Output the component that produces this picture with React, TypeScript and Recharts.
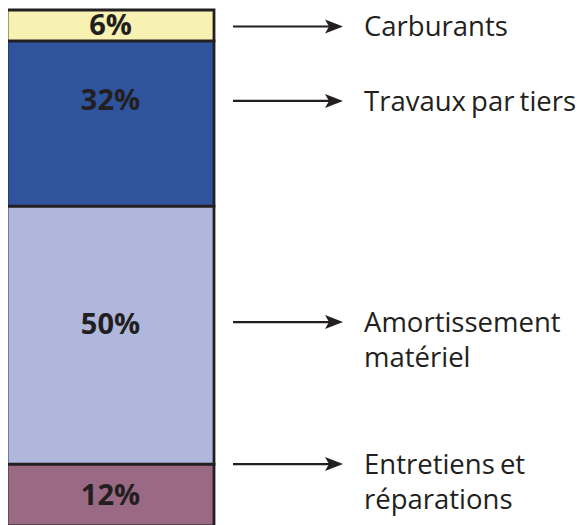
import React from "react";
import { BarChart, Bar, XAxis, YAxis, LabelList } from "recharts";

// ---- data ----
const categories = ["Coûts"];
const seriesKeys = ["entretiens", "amortissement", "travaux", "carburants"];
const seriesNames = [
  ["Entretiens et", "réparations"],
  ["Amortissement", "matériel"],
  ["Travaux par tiers"],
  ["Carburants"],
];
const entretiensValues = [12];
const amortissementValues = [50];
const travauxValues = [32];
const carburantsValues = [6];

const data = categories.map((c, i) => ({
  name: c,
  entretiens: entretiensValues[i],
  amortissement: amortissementValues[i],
  travaux: travauxValues[i],
  carburants: carburantsValues[i],
}));

// ---- styles ----
const INK = "#231f20";
const FONT = "'Open Sans', 'Noto Sans', sans-serif";
const fills = ["#9a6a85", "#b0b7dc", "#30539e", "#f8f2b2"];
// per-series placement (relative to segment top): percent baseline, arrow y
const placement = [
  { pct: "center", arrow: 0 },
  { pct: 128, arrow: 116 },
  { pct: 69, arrow: 60 },
  { pct: "center", arrow: "center" },
] as const;

function makeLabel(si: number) {
  return (props: any) => {
    const x = Number(props.x);
    const y = Number(props.y);
    const w = Number(props.width);
    const h = Number(props.height);
    const v = props.value;
    const p = placement[si];
    const pctBase = p.pct === "center" ? y + h / 2 + 10 : y + (p.pct as number);
    const ay = p.arrow === "center" ? y + h / 2 + 1 : y + (p.arrow as number);
    const ax0 = x + w + 19;
    const ax1 = ax0 + 110;
    const lines = seriesNames[si];
    const tx = ax1 + 21;
    return (
      <g>
        <text
          x={x + w / 2}
          y={pctBase}
          textAnchor="middle"
          fontFamily={FONT}
          fontWeight={700}
          fontSize={29}
          fill={INK}
        >
          {`${v}%`}
        </text>
        <line x1={ax0} y1={ay} x2={ax1 - 14} y2={ay} stroke={INK} strokeWidth={2.2} />
        <polygon
          points={`${ax1},${ay} ${ax1 - 18},${ay - 7} ${ax1 - 14},${ay} ${ax1 - 18},${ay + 7}`}
          fill={INK}
        />
        {lines.map((t, li) => (
          <text
            key={li}
            x={tx}
            y={ay + 10 + li * 35}
            fontFamily={FONT}
            fontSize={27.5}
            wordSpacing={-2}
            fill={INK}
          >
            {t}
          </text>
        ))}
      </g>
    );
  };
}

export default function App() {
  return (
    <div style={{ margin: "-8px 0 0 -8px", width: 584, height: 525, overflow: "hidden" }}>
      <BarChart
        width={584}
        height={540}
        data={data}
        margin={{ top: 10, bottom: 14, left: 7, right: 370 }}
        barCategoryGap={0}
      >
        <XAxis dataKey="name" hide />
        <YAxis hide domain={[0, 100]} />
        {seriesKeys.map((k, i) => (
          <Bar
            key={k}
            dataKey={k}
            stackId="a"
            fill={fills[i]}
            stroke={INK}
            strokeWidth={2.8}
            isAnimationActive={false}
          >
            <LabelList dataKey={k} content={makeLabel(i)} />
          </Bar>
        ))}
      </BarChart>
    </div>
  );
}
